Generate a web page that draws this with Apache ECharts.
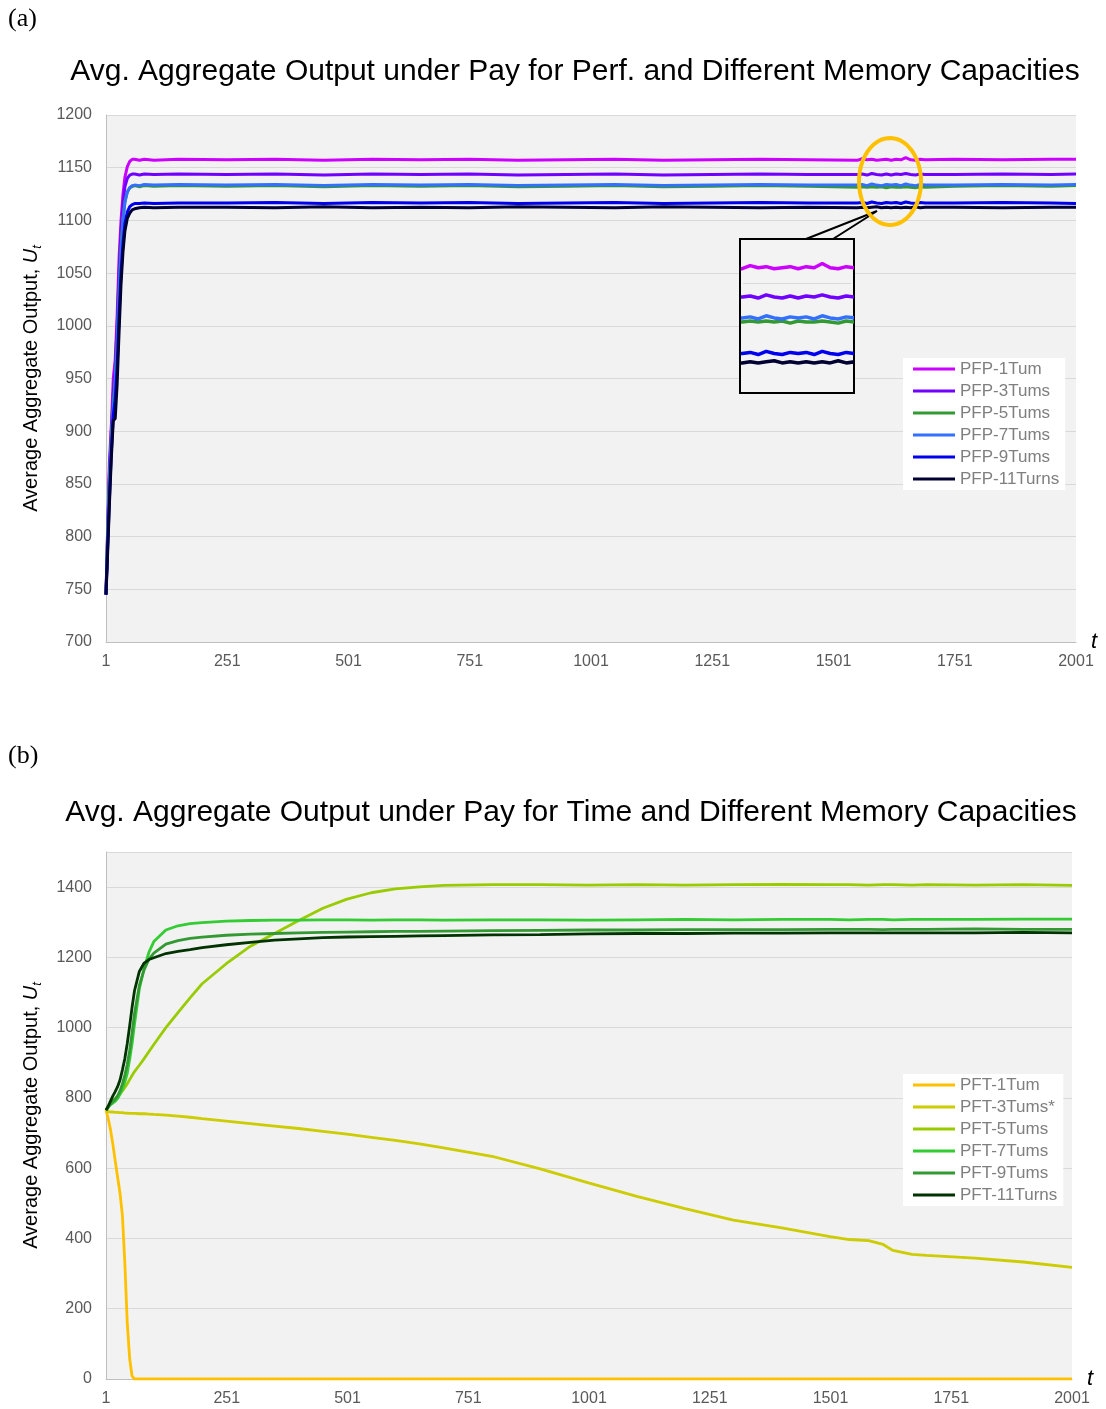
<!DOCTYPE html>
<html><head><meta charset="utf-8">
<script src="https://cdn.jsdelivr.net/npm/echarts@6/dist/echarts.min.js"></script>
<style>html,body{margin:0;padding:0;background:#fff}#c{width:1106px;height:1409px}</style>
</head><body><div id="c"></div>
<script>
// ---------- DATA (a): Pay for Performance ----------
const tA = [1,4,8,12,16,20,24,28,32,36,40,45,50,55,60,70,80,100,150,
  250,350,450,550,650,750,850,950,1050,1150,1250,1350,1450,
  1550,1560,1570,1580,1590,1600,1610,1620,1630,1640,1650,1660,1670,1680,1690,
  1750,1850,1950,2001];
const pfp1 = [745,800,870,905,950,968,1010,1065,1100,1125,1141,1151,1156,1158,1158,1157,1158,1157,1158,
  1157.5,1158,1157,1158,1157.5,1158,1157,1157.5,1158,1157,1157.5,1158,1157.5,
  1157,1158.5,1157.5,1158,1157,1157.5,1158,1157,1158,1157.5,1159.5,1157.5,1157,1158,1157.5,
  1158,1157.5,1158,1158];
const pfp3 = [745,795,860,900,935,960,1000,1050,1090,1115,1132,1140,1143,1144,1144,1143,1144,1143.5,1144,
  1143.5,1144,1143,1144,1143.5,1144,1143,1143.5,1144,1143,1143.5,1144,1143.5,
  1143.5,1144,1143,1144.5,1143.5,1143,1144,1143,1144,1143.5,1144.5,1143.5,1143,1144,1143.5,
  1143.5,1144,1143.5,1144];
const pfp5 = [745,800,855,895,925,950,985,1035,1075,1102,1118,1127,1131,1132,1133,1132,1133,1132.5,1133,
  1132.5,1133,1132,1133,1132.5,1133,1132,1132.5,1133,1132,1132.5,1133,1132.5,
  1131.5,1132,1131.5,1132,1131.5,1132,1131,1132,1131.5,1131.5,1132,1131.5,1131,1132,1131.5,
  1132.5,1133,1132.5,1133];
const pfp7 = [745,790,850,890,920,945,980,1030,1070,1100,1117,1127,1131,1133,1133.5,1133,1134,1133.5,1134,
  1133.5,1134,1133,1134,1133.5,1134,1133,1133.5,1134,1133,1133.5,1134,1133.5,
  1133.5,1134,1133,1134.5,1133.5,1133,1134,1133.5,1134,1133,1134.5,1133.5,1133,1134,1133.5,
  1133.5,1134,1133.5,1134];
const pfp9 = [745,785,835,880,915,930,960,1010,1050,1078,1097,1108,1113,1115,1116,1116,1116.5,1116,1116.5,
  1116.5,1117,1116,1117,1116.5,1117,1116,1116.5,1117,1116,1116.5,1117,1116.5,
  1116.5,1117,1116,1117.5,1116.5,1116,1117,1116.5,1117,1116,1117.5,1116.5,1116,1117,1116.5,
  1116.5,1117,1116.5,1116];
const pfp11 = [745,780,830,875,910,912,945,995,1040,1070,1090,1102,1107,1110,1111,1112,1112.5,1112,1112.5,
  1112.5,1112,1113,1112,1112.5,1112,1113,1112.5,1112,1113,1112.5,1112,1112.5,
  1112,1112.5,1112,1112.5,1113,1112,1112.5,1112,1112.5,1112,1112.5,1112,1113,1112,1112.5,
  1112.5,1112,1112.5,1112.5];
const namesA = ['PFP-1Tum','PFP-3Tums','PFP-5Tums','PFP-7Tums','PFP-9Tums','PFP-11Turns'];
const valuesA = [pfp1,pfp3,pfp5,pfp7,pfp9,pfp11];
const colorsA = ['#CC00FF','#7000FF','#339933','#3370FF','#0000EE','#000033'];

// ---------- DATA (b): Pay for Time ----------
const tB = [1,5,10,15,20,25,30,35,40,45,50,55,60,70,80,90,100,125,150,175,200,
  250,300,350,400,450,500,550,600,650,700,
  800,900,1000,1100,1200,1300,1400,1500,1540,1580,1610,1630,1670,1700,1800,1900,2001];
const pft1 = [765,745,712,670,622,575,529,465,330,160,58,8,0,0,0,0,0,0,0,0,0,
  0,0,0,0,0,0,0,0,0,0,
  0,0,0,0,0,0,0,0,0,0,0,0,0,0,0,0,0];
const pft3 = [762,761,760,760,759,759,758,758,757,757,756,756,756,755,755,754,753,751,748,745,741,
  734,727,720,713,705,697,688,679,669,658,
  634,598,558,520,485,452,430,405,397,394,383,366,355,352,344,333,318];
const pft5 = [765,775,785,792,798,805,812,820,830,840,852,864,875,893,912,932,952,1000,1043,1085,1125,
  1182,1232,1268,1305,1340,1366,1384,1395,1401,1405,
  1407,1407,1406,1407,1406,1407,1408,1407,1407,1406,1407,1407,1406,1407,1406,1407,1405];
const pft7 = [765,772,780,785,790,798,810,825,845,870,910,955,1010,1110,1170,1215,1245,1278,1290,1296,1299,
  1303,1305,1306,1306,1307,1307,1306,1307,1307,1306,
  1307,1307,1306,1307,1308,1307,1308,1308,1307,1308,1308,1307,1308,1308,1308,1309,1309];
const pft9 = [765,773,782,790,797,806,820,840,865,895,935,985,1040,1120,1165,1195,1212,1238,1248,1254,1258,
  1263,1266,1268,1270,1271,1272,1273,1274,1274,1275,
  1276,1277,1278,1278,1279,1279,1279,1280,1280,1280,1279,1280,1280,1280,1281,1280,1280];
const pft11 = [765,775,790,805,818,832,851,880,912,955,1005,1058,1105,1160,1184,1194,1199,1211,1217,1222,1228,
  1236,1243,1249,1253,1256,1258,1259,1260,1261,1262,
  1264,1265,1267,1268,1268,1269,1269,1270,1270,1270,1270,1270,1270,1270,1270,1271,1270];
const namesB = ['PFT-1Tum','PFT-3Tums*','PFT-5Tums','PFT-7Tums','PFT-9Tums','PFT-11Turns'];
const valuesB = [pft1,pft3,pft5,pft7,pft9,pft11];
const colorsB = ['#FFC000','#CCCC00','#99CC00','#33CC33','#339933','#003300'];

const xTickLabels = ['1','251','501','751','1001','1251','1501','1751','2001'];
const titleA = 'Avg. Aggregate Output under Pay for Perf. and Different Memory Capacities';
const titleB = 'Avg. Aggregate Output under Pay for Time and Different Memory Capacities';

// ---------- CHART ----------
const SANS = '"Liberation Sans", Arial, sans-serif';
const SERIF = '"Liberation Serif", "Times New Roman", serif';
const GRID_BG = '#F2F2F2', GRID_LINE = '#D9D9D9', LABEL = '#595959', AXIS = '#BFBFBF';
const toPts = (t, v) => t.map((ti, i) => [ti - 1, v[i]]);

function xAxisMain(gi) {
  return {
    type: 'value', gridIndex: gi, min: 0, max: 2000, interval: 250,
    axisLine: {show: true, lineStyle: {color: AXIS, width: 1}},
    axisTick: {show: false}, splitLine: {show: false},
    axisLabel: {color: LABEL, fontSize: 16, fontFamily: SANS, margin: 12,
      formatter: v => xTickLabels[Math.round(v / 250)]},
    name: 't', nameLocation: 'end', nameGap: 15,
    nameTextStyle: {fontStyle: 'italic', fontSize: 22, fontFamily: SANS, color: '#000', padding: [0, 0, 10, 0]}
  };
}
const yName = 'Average Aggregate Output, {i|U}{s|t}';
const yNameStyle = {
  fontSize: 20, fontFamily: SANS, color: '#000', lineHeight: 26,
  rich: {
    i: {fontStyle: 'italic', fontSize: 20, fontFamily: SANS, color: '#000', lineHeight: 26},
    s: {fontStyle: 'italic', fontSize: 13, fontFamily: SANS, color: '#000', verticalAlign: 'bottom', lineHeight: 26}
  }
};
function yAxisMain(gi, min, max, interval) {
  return {
    type: 'value', gridIndex: gi, min, max, interval,
    axisLine: {show: true, lineStyle: {color: AXIS, width: 1}},
    axisTick: {show: false},
    splitLine: {show: true, lineStyle: {color: GRID_LINE, width: 1}},
    axisLabel: {color: LABEL, fontSize: 16, fontFamily: SANS, margin: 14,
      showMaxLabel: max === 1200, formatter: v => String(v)},
    name: yName, nameLocation: 'middle', nameRotate: 90, nameGap: 62, nameTextStyle: yNameStyle
  };
}

const series = [];
namesA.forEach((n, i) => series.push({
  type: 'line', name: n, xAxisIndex: 0, yAxisIndex: 0, data: toPts(tA, valuesA[i]),
  symbol: 'none', showSymbol: false, silent: true, z: 2,
  lineStyle: {width: 3, color: colorsA[i]}, itemStyle: {color: colorsA[i]}
}));
namesB.forEach((n, i) => series.push({
  type: 'line', name: n, xAxisIndex: 1, yAxisIndex: 1, data: toPts(tB, valuesB[i]),
  symbol: 'none', showSymbol: false, silent: true, z: 2,
  lineStyle: {width: 2.8, color: colorsB[i]}, itemStyle: {color: colorsB[i]}
}));
// inset (zoom of panel a)
namesA.forEach((n, i) => series.push({
  type: 'line', name: n, xAxisIndex: 2, yAxisIndex: 2, data: toPts(tA, valuesA[i]),
  symbol: 'none', showSymbol: false, silent: true, z: 20, clip: true,
  lineStyle: {width: 3.5, color: colorsA[i]}, itemStyle: {color: colorsA[i]}
}));

const ell = [];
for (let k = 0; k < 72; k++) {
  const a = k * Math.PI * 2 / 72;
  ell.push([890 + 31 * Math.cos(a), 181.5 + 43.5 * Math.sin(a)]);
}

const legendCommon = {
  orient: 'vertical', icon: 'rect', itemWidth: 42, itemHeight: 3, itemGap: 0,
  backgroundColor: '#ffffff', padding: [0, 6, 0, 10],
  textStyle: {fontSize: 17, fontFamily: SANS, color: '#7F7F7F', lineHeight: 22}
};

const option = {
  animation: false,
  backgroundColor: '#ffffff',
  title: [
    {text: '(a)', left: 8, top: 6, padding: 0, textStyle: {fontFamily: SERIF, fontSize: 26, fontWeight: 'normal', color: '#000'}},
    {text: titleA, left: 575, textAlign: 'center', top: 57, padding: 0, textStyle: {fontFamily: SANS, fontSize: 30, fontWeight: 'normal', color: '#000'}},
    {text: '(b)', left: 8, top: 743, padding: 0, textStyle: {fontFamily: SERIF, fontSize: 26, fontWeight: 'normal', color: '#000'}},
    {text: titleB, left: 571, textAlign: 'center', top: 798, padding: 0, textStyle: {fontFamily: SANS, fontSize: 30, fontWeight: 'normal', color: '#000'}}
  ],
  grid: [
    {left: 106, top: 115, width: 970, height: 527, show: true, backgroundColor: GRID_BG, borderWidth: 0},
    {left: 106, top: 852, width: 966, height: 527, show: true, backgroundColor: GRID_BG, borderWidth: 0},
    {left: 743, top: 252, width: 108, height: 136, show: false}
  ],
  xAxis: [
    xAxisMain(0), xAxisMain(1),
    {type: 'value', gridIndex: 2, min: 1550, max: 1685, show: false}
  ],
  yAxis: [
    yAxisMain(0, 700, 1200, 50),
    yAxisMain(1, 0, 1500, 200),
    {type: 'value', gridIndex: 2, min: 1100, max: 1165, interval: 50, z: 15,
      axisLine: {show: false}, axisTick: {show: false}, axisLabel: {show: false},
      splitLine: {show: true, showMinLine: false, showMaxLine: false, lineStyle: {color: GRID_LINE, width: 1}}}
  ],
  legend: [
    Object.assign({}, legendCommon, {left: 903, top: 358, data: namesA}),
    Object.assign({}, legendCommon, {left: 903, top: 1074, data: namesB})
  ],
  graphic: [
    {type: 'polygon', z: 10, shape: {points: [[806, 239], [877, 211], [833, 239]]}, style: {fill: GRID_BG}},
    {type: 'rect', z: 10, shape: {x: 740, y: 239, width: 114, height: 154}, style: {fill: '#F3F3F3', stroke: '#000', lineWidth: 2}},
    {type: 'polyline', z: 11, shape: {points: [[806, 239], [877, 211], [833, 239]]}, style: {fill: null, stroke: '#000', lineWidth: 2}},
    {type: 'polygon', z: 12, shape: {points: ell}, style: {fill: null, stroke: '#FFC000', lineWidth: 4}}
  ],
  series
};
const chart = echarts.init(document.getElementById('c'));
chart.setOption(option);
</script></body></html>
